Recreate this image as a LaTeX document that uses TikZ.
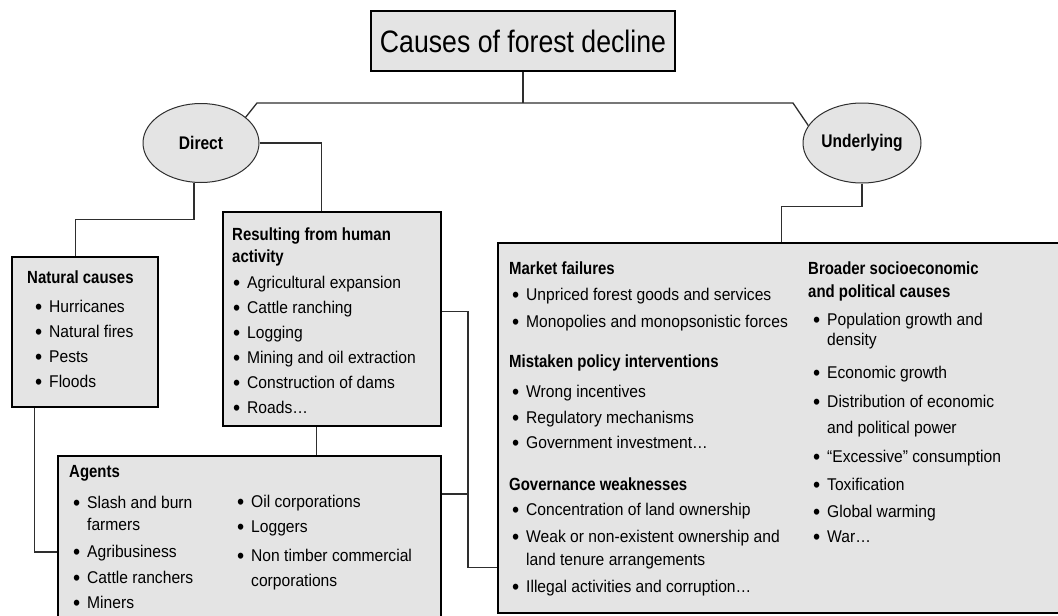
\documentclass[tikz,border=0pt]{standalone}
\usepackage{fontspec}
\setmainfont{Liberation Sans}[FakeStretch=0.92]
\newfontfamily\headfont{Liberation Sans}[FakeStretch=0.85]
\newfontfamily\titlefam{Liberation Sans}[FakeStretch=0.86]
\usepackage{tikz}
\usetikzlibrary{positioning, shapes.geometric, calc}
\definecolor{boxgray}{HTML}{E4E4E4}
\definecolor{linegray}{HTML}{2E2E2E}
\newcommand{\bodyfont}{\fontsize{17}{20}\selectfont}
\newcommand{\hdfont}{\headfont\bfseries\fontsize{17.6}{21}\selectfont}
\newcommand{\labfont}{\headfont\bfseries\fontsize{18.3}{22}\selectfont}
\newcommand{\titlefont}{\titlefam\fontsize{31}{36}\selectfont}
\newcommand{\bul}{\makebox[14pt][l]{\raisebox{-2.2pt}{\scalebox{1.3}{\textbullet}}}}

\begin{document}
\begin{tikzpicture}[x=1pt, y=-1pt]
\tikzstyle{box} = [draw=black, fill=boxgray, line width=1.6pt, inner sep=0]
\tikzstyle{cause} = [ellipse, draw=linegray, fill=boxgray, line width=1pt, inner sep=0, font=\labfont]
\tikzstyle{head} = [anchor=base west, inner sep=0, font=\hdfont]
\tikzstyle{item} = [anchor=base west, inner sep=0, font=\bodyfont]
\tikzstyle{link} = [draw=linegray, line width=1.3pt]

\useasboundingbox (0,0) rectangle (1058,616);
\clip (0,0) rectangle (1058,616);

% boxes and ellipses
\node[box, minimum width=304pt, minimum height=60pt, font=\titlefont] (title) at (523,41) {Causes of forest decline};
\node[cause, minimum width=116pt, minimum height=79pt] (dir) at (201,143) {Direct};
\node[cause, minimum width=118pt, minimum height=80pt] (und) at (862,143) {Underlying};
\node[box, minimum width=146pt, minimum height=150pt] (nat) at (85,332) {};
\node[box, minimum width=218pt, minimum height=214pt] (res) at (332,319) {};
\node[box, minimum width=383pt, minimum height=192pt] (agt) at (249.5,552) {};
\node[box, minimum width=572pt, minimum height=370pt] (ubox) at (784,428) {};

% connectors
\coordinate (jl) at (257,103);
\coordinate (jr) at (793,103);
\coordinate (rj) at (468,494);
\draw[link] (title.south) -- (title.south |- jl);
\draw[link] (dir.30) -- (jl) -- (jr) -- (und.162);
\draw[link] (dir.east) -| ($(res.north west)+(99,0)$);
\draw[link] (dir.260) -- ++(0,37) -| ($(nat.north west)+(64,0)$);
\draw[link] ($(nat.south west)+(23,0)$) |- (agt.west);
\draw[link] ($(res.south west)+(94,0)$) -- ($(agt.north west)+(259,0)$);
\draw[link] ($(res.north east)+(0,100)$) -| (rj) |- ($(ubox.south west)+(0,-46)$);
\draw[link] (agt.east |- rj) -- (rj);
\draw[link] (und.south) -- ++(0,23) -| ($(ubox.north west)+(284,0)$);

% natural causes
\node[head] (natH) at (27,283) {Natural causes};
\foreach \t [count=\i] in {Hurricanes, Natural fires, Pests, Floods}
  \node[item] (nat\i) at (35,287+25*\i) {\bul\t};

% resulting from human activity
\node[head] (resH1) at (232,240) {Resulting from human};
\node[head] (resH2) at (232,262) {activity};
\foreach \t [count=\i] in {Agricultural expansion, Cattle ranching, Logging,
    Mining and oil extraction, Construction of dams, Roads\dots}
  \node[item] (res\i) at (233,263+25*\i) {\bul\t};

% agents
\node[head] (agtH) at (69,477) {Agents};
\foreach \y/\t [count=\i] in {508/Slash and burn, 557/Agribusiness, 583/Cattle ranchers, 608/Miners}
  \node[item] (agl\i) at (73,\y) {\bul\t};
\node[item] (agl5) at (87,530) {farmers};
\foreach \y/\t [count=\i] in {507/Oil corporations, 532/Loggers, 561/Non timber commercial}
  \node[item] (agr\i) at (237,\y) {\bul\t};
\node[item] (agr4) at (251,586) {corporations};

% underlying causes, left column
\node[head] (mkt) at (509,274) {Market failures};
\node[head] (pol) at (509,367) {Mistaken policy interventions};
\node[head] (gov) at (509,490) {Governance weaknesses};
\foreach \y/\t [count=\i] in {300/Unpriced forest goods and services,
    327/Monopolies and monopsonistic forces, 397/Wrong incentives,
    423/Regulatory mechanisms, 448/Government investment\dots,
    515/Concentration of land ownership, 542/Weak or non-existent ownership and,
    592/Illegal activities and corruption\dots}
  \node[item] (ul\i) at (512,\y) {\bul\t};
\node[item] (ul9) at (526,565) {land tenure arrangements};

% underlying causes, right column
\node[head] (brd1) at (808,274) {Broader socioeconomic};
\node[head] (brd2) at (808,297) {and political causes};
\foreach \y/\t [count=\i] in {325/Population growth and, 378/Economic growth,
    407/Distribution of economic, 462/``Excessive'' consumption,
    490/Toxification, 517/Global warming, 542/War\dots}
  \node[item] (ur\i) at (813,\y) {\bul\t};
\node[item] (ur8) at (827,345) {density};
\node[item] (ur9) at (827,433) {and political power};
\end{tikzpicture}
\end{document}
